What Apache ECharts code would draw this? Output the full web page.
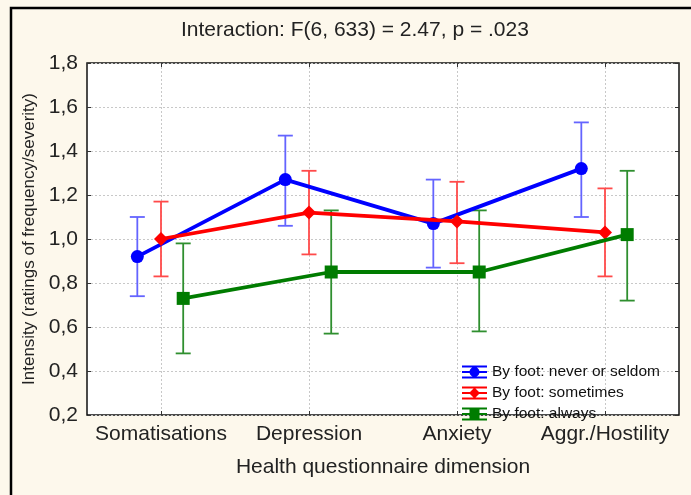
<!DOCTYPE html>
<html><head><meta charset="utf-8">
<script src="https://cdn.jsdelivr.net/npm/echarts@6/dist/echarts.min.js"></script>
<style>html,body{margin:0;padding:0;background:#fdf8ec}#c{width:691px;height:495px}</style>
</head><body><div id="c"></div>
<script>
const categories = ['Somatisations', 'Depression', 'Anxiety', 'Aggr./Hostility'];
const seriesNames = ['By foot: never or seldom', 'By foot: sometimes', 'By foot: always'];
const meanNever = [0.92, 1.27, 1.07, 1.32];
const lowNever = [0.74, 1.06, 0.87, 1.10];
const highNever = [1.10, 1.47, 1.27, 1.53];
const meanSome = [1.00, 1.12, 1.08, 1.03];
const lowSome = [0.83, 0.93, 0.89, 0.83];
const highSome = [1.17, 1.31, 1.26, 1.23];
const meanAlways = [0.73, 0.85, 0.85, 1.02];
const lowAlways = [0.48, 0.57, 0.58, 0.72];
const highAlways = [0.98, 1.13, 1.13, 1.31];
const yTicks = [0.2, 0.4, 0.6, 0.8, 1.0, 1.2, 1.4, 1.6, 1.8];

const FONT = 'Liberation Sans';
const groups = [
  {name: seriesNames[0], mean: meanNever, lo: lowNever, hi: highNever, color: '#0000ff', err: '#6464ff', symbol: 'circle', size: 13, off: -0.16,
   icon: 'path://M0,0H50V4H0Z M0,22H50V26H0Z M23,0H27V26H23Z M0,11H50V15H0Z M15,13A10,10 0 1 1 35,13A10,10 0 1 1 15,13Z'},
  {name: seriesNames[1], mean: meanSome, lo: lowSome, hi: highSome, color: '#ff0000', err: '#ff4a4a', symbol: 'diamond', size: 14, off: 0,
   icon: 'path://M0,0H50V4H0Z M0,22H50V26H0Z M23,0H27V26H23Z M0,11H50V15H0Z M25,2L36,13L25,24L14,13Z'},
  {name: seriesNames[2], mean: meanAlways, lo: lowAlways, hi: highAlways, color: '#007c00', err: '#2f8f2f', symbol: 'rect', size: 13, off: 0.15,
   icon: 'path://M0,0H50V4H0Z M0,22H50V26H0Z M23,0H27V26H23Z M0,11H50V15H0Z M15,3H35V23H15Z'}
];

const series = [];
groups.forEach(function (g) {
  series.push({
    type: 'custom', xAxisIndex: 1, yAxisIndex: 0, z: 2, silent: true,
    data: g.mean.map(function (v, i) { return [i + 0.5 + g.off, g.lo[i], g.hi[i]]; }),
    renderItem: function (params, api) {
      const x = api.value(0);
      const p1 = api.coord([x, api.value(1)]);
      const p2 = api.coord([x, api.value(2)]);
      const cap = 7.5;
      const st = {stroke: g.err, lineWidth: 1.8, fill: null};
      return {type: 'group', children: [
        {type: 'line', shape: {x1: p1[0], y1: p1[1], x2: p2[0], y2: p2[1]}, style: st},
        {type: 'line', shape: {x1: p1[0] - cap, y1: p1[1], x2: p1[0] + cap, y2: p1[1]}, style: st},
        {type: 'line', shape: {x1: p2[0] - cap, y1: p2[1], x2: p2[0] + cap, y2: p2[1]}, style: st}
      ]};
    }
  });
});
groups.forEach(function (g, gi) {
  series.push({
    name: g.name, type: 'line', xAxisIndex: 1, yAxisIndex: 0, z: 3 + gi,
    data: g.mean.map(function (v, i) { return [i + 0.5 + g.off, v]; }),
    symbol: g.symbol, symbolSize: g.size, showSymbol: true,
    lineStyle: {color: g.color, width: 3.8},
    itemStyle: {color: g.color, borderWidth: 0},
    emphasis: {disabled: true}, animation: false
  });
});

const chart = echarts.init(document.getElementById('c'), null, {renderer: 'canvas'});
chart.setOption({
  backgroundColor: '#fdf8ec',
  animation: false,
  title: {text: 'Interaction: F(6, 633) = 2.47, p = .023', left: 181, top: 20, padding: 0,
    textStyle: {fontFamily: FONT, fontWeight: 'normal', fontSize: 21, color: '#222'}},
  graphic: [{type: 'rect', shape: {x: 11, y: 8, width: 720, height: 520}, style: {fill: null, stroke: '#000', lineWidth: 2.5}, silent: true}],
  grid: {left: 87, right: 12, top: 63, bottom: 80, show: true, backgroundColor: '#ffffff', borderColor: '#111', borderWidth: 1.5},
  legend: {
    left: 462, top: 364, padding: 0, orient: 'vertical', itemGap: 5, itemWidth: 25, itemHeight: 13,
    textStyle: {fontFamily: FONT, fontSize: 15.5, color: '#111'},
    data: groups.map(function (g) { return {name: g.name, icon: g.icon}; })
  },
  xAxis: [
    {type: 'category', data: categories, boundaryGap: true, position: 'bottom',
     axisLine: {show: false}, axisTick: {show: true, alignWithLabel: true, inside: true, length: 4, lineStyle: {color: '#333'}},
     axisLabel: {fontFamily: FONT, fontSize: 21, color: '#222', margin: 9, interval: 0, hideOverlap: false},
     splitLine: {show: true, alignWithLabel: true, lineStyle: {color: '#c8c8c8', type: [2, 2], width: 1}},
     name: 'Health questionnaire dimension', nameLocation: 'middle', nameGap: 42,
     nameTextStyle: {fontFamily: FONT, fontSize: 21, color: '#222'}},
    {type: 'value', min: 0, max: 4, show: false},
    {type: 'category', data: categories, boundaryGap: true, position: 'top',
     axisLine: {show: false}, axisLabel: {show: false}, splitLine: {show: false},
     axisTick: {show: true, alignWithLabel: true, inside: true, length: 4, lineStyle: {color: '#333'}}}
  ],
  yAxis: [{
    type: 'value', min: 0.2, max: 1.8, interval: 0.2,
    axisLine: {show: false}, axisTick: {show: true, inside: true, length: 4, lineStyle: {color: '#333'}},
    axisLabel: {fontFamily: FONT, fontSize: 21, color: '#222', margin: 9,
      formatter: function (v) { return v.toFixed(1).replace('.', ','); }},
    splitLine: {show: true, lineStyle: {color: '#c8c8c8', type: [2, 2], width: 1}},
    name: 'Intensity (ratings of frequency/severity)', nameLocation: 'middle', nameGap: 45, nameRotate: 90,
    nameTextStyle: {fontFamily: FONT, fontSize: 17, color: '#222'}
  }, {
    type: 'value', min: 0.2, max: 1.8, interval: 0.2, position: 'right',
    axisLine: {show: false}, axisLabel: {show: false}, splitLine: {show: false},
    axisTick: {show: true, inside: true, length: 4, lineStyle: {color: '#333'}}
  }],
  series: series
});
</script></body></html>
